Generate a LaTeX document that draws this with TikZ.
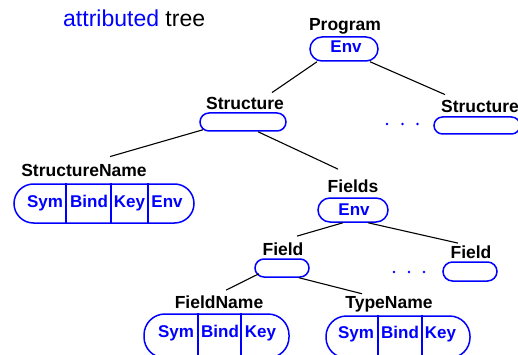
\documentclass[tikz,border=0pt]{standalone}
\usepackage{fontspec}
\setmainfont{Liberation Sans}
\begin{document}
\begin{tikzpicture}[x=1pt,y=-1pt,
  lbl/.style={font=\bfseries\fontsize{17.5}{19}\selectfont, inner sep=0pt, anchor=base},
  fld/.style={lbl, font=\bfseries\fontsize{17}{19}\selectfont, text=blue},
  slot/.style={draw=blue, line width=1.5pt, rounded corners=#1, inner sep=0pt},
  divider/.style={draw=blue, line width=1.3pt},
  branch/.style={line width=1.1pt, black},
  dotmark/.style={fill=blue}
]
\clip (0,0) rectangle (518,355);

% title
\node[anchor=base west, inner sep=0pt, font=\fontsize{23}{25}\selectfont] (title) at (63,27)
  {\textcolor{blue}{attributed} tree};

% Program
\node[lbl] (progL) at (345,31) {Program};
\node[slot=12pt, minimum width=68pt, minimum height=24pt] (progB) at (344,49) {};
\node[fld] (progEnv) at (346,53) {Env};

% Structure (left)
\node[lbl] (structL) at (245,110) {Structure};
\node[slot=9pt, minimum width=86pt, minimum height=18pt] (structB) at (243,122) {};

% Structure (right)
\node[lbl] (structRL) at (480,113) {Structure};
\node[slot=8.5pt, minimum width=86pt, minimum height=17pt] (structRB) at (477,125.5) {};

% StructureName
\node[lbl] (snameL) at (84,176) {StructureName};
\node[slot=19.5pt, minimum width=180pt, minimum height=39pt] (snameB) at (104,203.5) {};
\draw[divider] ([xshift=-38pt]snameB.north) -- ([xshift=-38pt]snameB.south);
\draw[divider] ([xshift=7pt]snameB.north) -- ([xshift=7pt]snameB.south);
\draw[divider] ([xshift=44pt]snameB.north) -- ([xshift=44pt]snameB.south);
\node[fld] (snSym) at (45,207) {Sym};
\node[fld] (snBind) at (89,207) {Bind};
\node[fld] (snKey) at (129.5,207) {Key};
\node[fld] (snEnv) at (167,207) {Env};

% Fields
\node[lbl] (fieldsL) at (353,192) {Fields};
\node[slot=12pt, minimum width=70pt, minimum height=24pt] (fieldsB) at (353,210) {};
\node[fld] (fieldsEnv) at (354,215) {Env};

% Field (left)
\node[lbl] (fieldL) at (283,255) {Field};
\node[slot=9pt, minimum width=54pt, minimum height=18pt] (fieldB) at (282,268) {};

% Field (right)
\node[lbl] (fieldRL) at (471,258) {Field};
\node[slot=9.5pt, minimum width=54pt, minimum height=19pt] (fieldRB) at (470,271.5) {};

% FieldName
\node[lbl] (fnameL) at (219,308) {FieldName};
\node[slot=21pt, minimum width=145pt, minimum height=44pt] (fnameB) at (216.5,336) {};
\draw[divider] ([xshift=-18.5pt]fnameB.north) -- ([xshift=-18.5pt]fnameB.south);
\draw[divider] ([xshift=24.5pt]fnameB.north) -- ([xshift=24.5pt]fnameB.south);
\node[fld] (fnSym) at (176,337) {Sym};
\node[fld] (fnBind) at (220,337) {Bind};
\node[fld] (fnKey) at (260.5,337) {Key};

% TypeName
\node[lbl] (tnameL) at (389,308) {TypeName};
\node[slot=20.5pt, minimum width=144pt, minimum height=42pt] (tnameB) at (398,337) {};
\draw[divider] ([xshift=-20pt]tnameB.north) -- ([xshift=-20pt]tnameB.south);
\draw[divider] ([xshift=24pt]tnameB.north) -- ([xshift=24pt]tnameB.south);
\node[fld] (tnSym) at (356,338) {Sym};
\node[fld] (tnBind) at (400,338) {Bind};
\node[fld] (tnKey) at (440.5,338) {Key};

% tree branches
\draw[branch] ([xshift=-27pt]progB.south) -- ([xshift=27pt,yshift=5pt]structL.north);
\draw[branch] ([xshift=26pt]progB.south) -- ([xshift=-35pt,yshift=6pt]structRL.north);
\draw[branch] ([xshift=-40pt,yshift=2pt]structB.south) -- ([xshift=26pt,yshift=7pt]snameL.north);
\draw[branch] ([xshift=15pt]structB.south) -- ([xshift=-15pt,yshift=10pt]fieldsL.north);
\draw[branch] ([xshift=-10pt]fieldsB.south) -- ([xshift=14pt,yshift=6pt]fieldL.north);
\draw[branch] ([xshift=15pt]fieldsB.south) -- ([xshift=-13pt,yshift=2pt]fieldRL.north);
\draw[branch] ([xshift=-23pt,yshift=4pt]fieldB.south) -- ([xshift=7pt,yshift=5pt]fnameL.north);
\draw[branch] ([xshift=17pt]fieldB.south) -- ([xshift=-27pt,yshift=2pt]tnameL.north);

% elided siblings
\foreach \x in {387,402.5,417.5} \fill[dotmark] (\x,124) circle (1.4pt);
\foreach \x in {394,409,424} \fill[dotmark] (\x,272) circle (1.4pt);
\end{tikzpicture}
\end{document}
